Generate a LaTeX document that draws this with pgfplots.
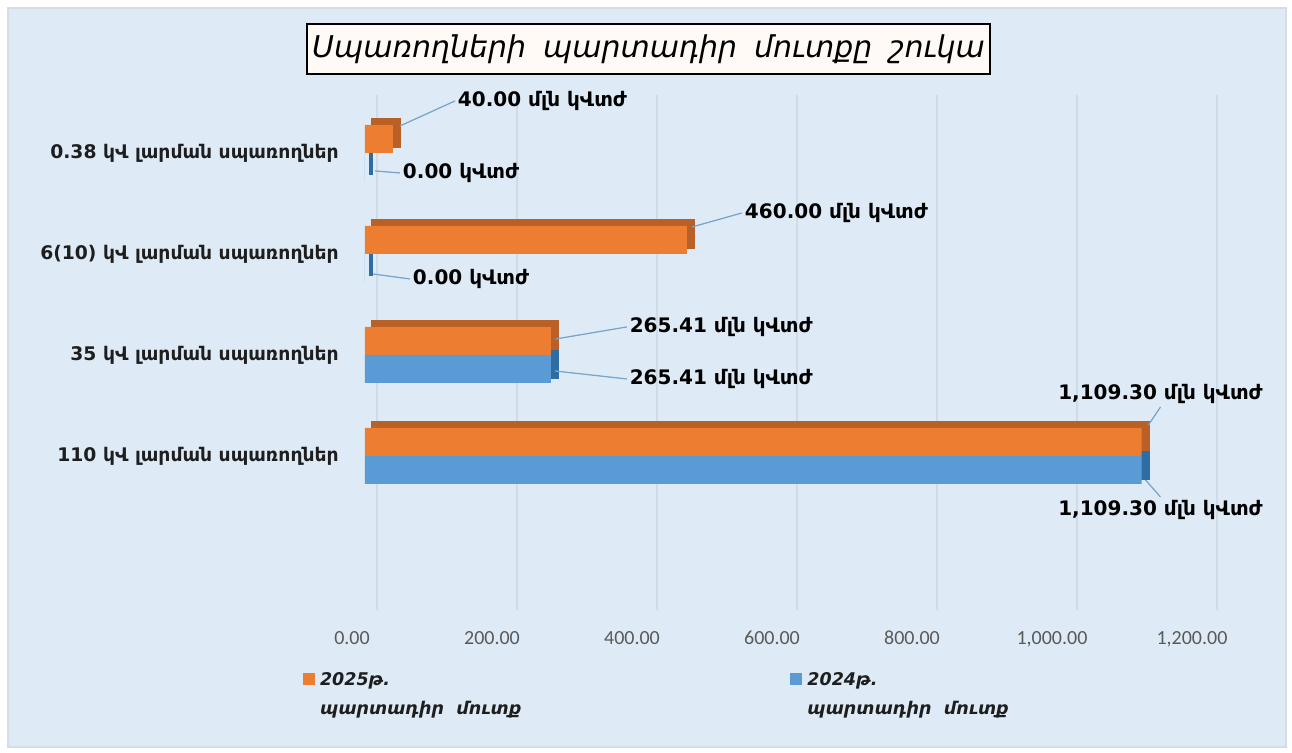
\documentclass[border=0pt]{standalone}
\usepackage{fontspec}
\setmainfont{DejaVu Sans}
\newfontfamily\carlito{Carlito}
\usepackage{pgfplots}
\pgfplotsset{compat=1.18}
\usetikzlibrary{calc}

\definecolor{panelbg}{RGB}{222,235,247}
\definecolor{panelborder}{RGB}{210,221,232}
\definecolor{gridcol}{RGB}{208,219,230}
\definecolor{orangebar}{RGB}{237,125,49}
\definecolor{orangeshade}{RGB}{184,96,38}
\definecolor{bluebar}{RGB}{91,155,213}
\definecolor{blueshade}{RGB}{46,108,164}
\definecolor{leadercol}{RGB}{120,165,200}
\definecolor{tickgray}{RGB}{89,89,89}
\definecolor{textdark}{RGB}{30,30,30}
\definecolor{titlefill}{RGB}{255,250,246}

\pgfplotsset{
  barlabels/.style={
    nodes near coords={\pgfplotspointmeta},
    point meta=explicit symbolic,
    visualization depends on={value \thisrow{dx}\as\ldx},
    visualization depends on={value \thisrow{dy}\as\ldy},
    visualization depends on={value \thisrow{lx}\as\llx},
    visualization depends on={value \thisrow{ly}\as\lly},
    visualization depends on={value \thisrow{anc}\as\lanc},
    every node near coord/.append style={
      anchor=\lanc, xshift={\ldx*0.4pt}, yshift={\ldy*0.4pt},
      inner sep=1pt, text=black,
      font=\bfseries\fontsize{8}{9}\selectfont,
      append after command={(\tikzlastnode.\lanc) edge[draw=leadercol, line width=0.5pt]
        ($(\tikzlastnode.\lanc)+({(\llx-\ldx)*0.4pt},{(\lly-\ldy)*0.4pt})$)}
    },
  },
}

\begin{document}
\begin{tikzpicture}
\fill[white] (-146pt,-57.2pt) rectangle (370.8pt,244pt);
\filldraw[fill=panelbg, draw=panelborder, line width=1pt] (-142.8pt,-54.8pt) rectangle (368.4pt,240.8pt);
\begin{axis}[
    scale only axis,
    width=336pt, height=206pt,
    xbar, bar width=11.2pt,
    xmin=0, xmax=1200,
    ymin=-1.525, ymax=3.574,
    axis line style={draw=none},
    major tick length=0pt,
    xtick={0,200,...,1200},
    ytick={0,1,2,3},
    yticklabels={110 կՎ լարման սպառողներ, 35 կՎ լարման սպառողներ, 6(10) կՎ լարման սպառողներ, 0.38 կՎ լարման սպառողներ},
    yticklabel style={font=\bfseries\fontsize{7.5}{9}\selectfont, text=textdark, xshift=-7pt},
    xticklabel style={/pgf/number format/.cd, fixed, fixed zerofill, precision=2, 1000 sep={,}, assume math mode=true,
        /tikz/.cd, font=\carlito\fontsize{8}{9}\selectfont, text=tickgray, anchor=north, yshift=-5pt, xshift=-5.2pt},
    xmajorgrids,
    major grid style={draw=gridcol, line width=0.9pt, xshift=4.8pt},
    title={Սպառողների\hspace{3pt} պարտադիր\hspace{3pt} մուտքը\hspace{3pt} շուկա},
    title style={at={(axis description cs:0.3375,1.060)}, anchor=center, yshift=0pt, draw=black, line width=0.8pt,
        fill=titlefill, minimum width=273pt, minimum height=20pt, inner sep=2pt,
        font=\itshape\fontsize{12}{14}\selectfont},
    legend columns=2,
    legend style={at={(axis description cs:-0.0833,-0.101)}, anchor=north west, draw=none, fill=none,
        font=\bfseries\itshape\fontsize{7}{11.5}\selectfont, text=textdark,
        cells={align=left},
        /tikz/every even column/.append style={column sep=105.6pt}},
    legend image code/.code={\fill[#1] (0pt,4pt) rectangle (4.8pt,8.8pt);
        \path[draw=none, fill=none] (0pt,-8.8pt) rectangle (0.01pt,8.8pt);},
]
% back faces of the 3-D bars
\addplot[forget plot, fill=blueshade, draw=blueshade, line width=1.6pt, bar shift=-5.6pt, xshift=2.4pt, yshift=2.4pt]
    coordinates {(0,3) (0,2) (265.41,1) (1109.30,0)};
\addplot[forget plot, fill=orangeshade, draw=orangeshade, line width=0.8pt, bar shift=5.6pt, xshift=2.8pt, yshift=2.4pt]
    coordinates {(40,3) (460,2) (265.41,1) (1109.30,0)};
% front faces; dx dy = label offset, lx ly = leader end (px)
\addplot[forget plot, fill=orangebar, draw=none, bar shift=5.6pt, barlabels]
    table[x=val, y=cat, meta=label] {
cat val dx dy lx ly anc label
3 40      62  38 7 13 west  {40.00 մլն կՎտժ}
2 460     55  27 5 13 west  {460.00 մլն կՎտժ}
1 265.41  76  14 5 2  west  {265.41 մլն կՎտժ}
0 1109.30 19  35 7 17 south {1,109.30 մլն կՎտժ}
};
\addplot[forget plot, fill=bluebar, draw=none, bar shift=-5.6pt, barlabels]
    table[x=val, y=cat, meta=label] {
cat val dx dy lx ly anc label
3 0       35  -6 10 -4  west  {0.00 կՎտժ}
2 0       45 -11  8 -6  west  {0.00 կՎտժ}
1 265.41  76 -10  4 -2  west  {265.41 մլն կՎտժ}
0 1109.30 19 -27  4 -10 north {1,109.30 մլն կՎտժ}
};
\addlegendimage{fill=orangebar, draw=none}
\addlegendentry{2025թ.\\պարտադիր\ \ մուտք}
\addlegendimage{fill=bluebar, draw=none}
\addlegendentry{2024թ.\\պարտադիր\ \ մուտք}
\end{axis}
\end{tikzpicture}
\end{document}
